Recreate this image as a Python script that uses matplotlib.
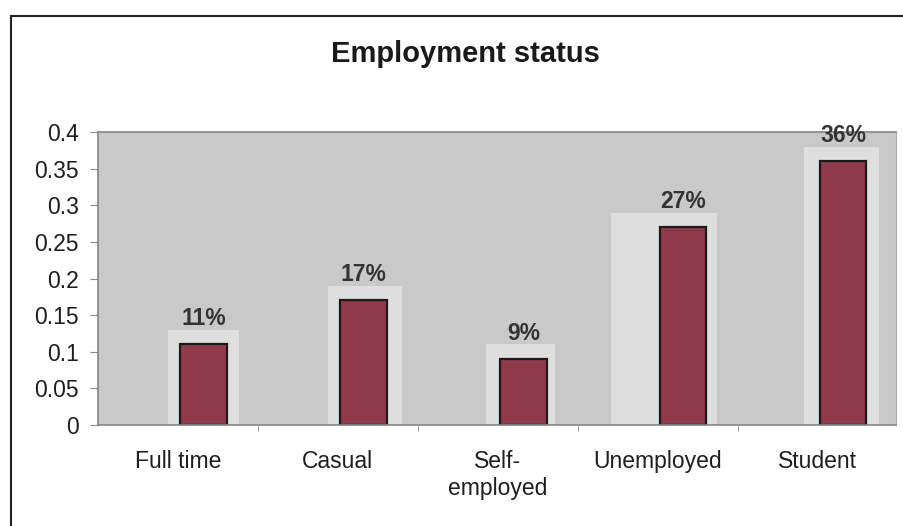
import numpy as np
import matplotlib
matplotlib.use('Agg')
import matplotlib.pyplot as plt
from matplotlib.lines import Line2D

plt.rcParams['font.family'] = ['Liberation Sans', 'DejaVu Sans']

# employment survey results (share of respondents)
categories = ['Full time', 'Casual', 'Self-\nemployed', 'Unemployed', 'Student']
shares = [0.11, 0.17, 0.09, 0.27, 0.36]
y_ticks = [0, 0.05, 0.1, 0.15, 0.2, 0.25, 0.3, 0.35, 0.4]
y_tick_labels = ['0', '0.05', '0.1', '0.15', '0.2', '0.25', '0.3', '0.35', '0.4']

x = np.arange(len(categories))
bar_shift = 0.16
bar_width = 0.29
# pale backing panels behind each bar
panel_shift = [0.16, 0.17, 0.14, 0.04, 0.15]
panel_width = [0.44, 0.46, 0.43, 0.66, 0.47]

fig = plt.figure(figsize=(9.04, 5.26), dpi=100)
ax = fig.add_axes([98 / 904, 101 / 526, 798 / 904, 293 / 526])
ax.set_facecolor('#c9c9c9')

ax.bar(x + np.array(panel_shift), np.array(shares) + 0.02, width=panel_width,
       color='#dedede', edgecolor='none', zorder=1)
ax.bar(x + bar_shift, shares, width=bar_width, color='#8f3b4b',
       edgecolor='#1a1a1a', linewidth=1.6, zorder=2)

for xi, v in zip(x, shares):
    ax.annotate('{:.0f}%'.format(v * 100), (xi + bar_shift, v),
                xytext=(0, 14), textcoords='offset points',
                ha='center', va='baseline', fontsize=16.5, fontweight='bold',
                color='#333333', clip_on=False, zorder=3)

ax.set_xlim(-0.5, 4.49)
ax.set_ylim(0, 0.4)
ax.set_yticks(y_ticks)
ax.set_yticklabels(y_tick_labels, fontsize=16.5, color='#1e1e1e')
ax.set_xticks(x)
ax.set_xticklabels(categories, fontsize=16.5, color='#1e1e1e')
ax.set_xticks(x[:-1] + 0.5, minor=True)
ax.tick_params(axis='x', which='major', length=0, pad=18)
ax.tick_params(axis='x', which='minor', length=4, color='#999999')
ax.tick_params(axis='y', length=6, color='#888888', pad=8)

for side in ['top', 'left', 'bottom']:
    ax.spines[side].set_color('#858585')
    ax.spines[side].set_linewidth(1.2)
ax.spines['right'].set_color('#aaaaaa')

fig.text(465 / 904, 1 - 54 / 526, 'Employment status', ha='center', va='center',
         fontsize=21, fontweight='bold', color='#1a1a1a')

# outer chart frame
fig.add_artist(Line2D([11 / 904, 11 / 904], [0, 1 - 16 / 526],
                      transform=fig.transFigure, color='#222222', lw=1.5))
fig.add_artist(Line2D([11 / 904, 1], [1 - 16 / 526, 1 - 16 / 526],
                      transform=fig.transFigure, color='#222222', lw=1.5))

fig.savefig('out.png', dpi=100, facecolor='white')
